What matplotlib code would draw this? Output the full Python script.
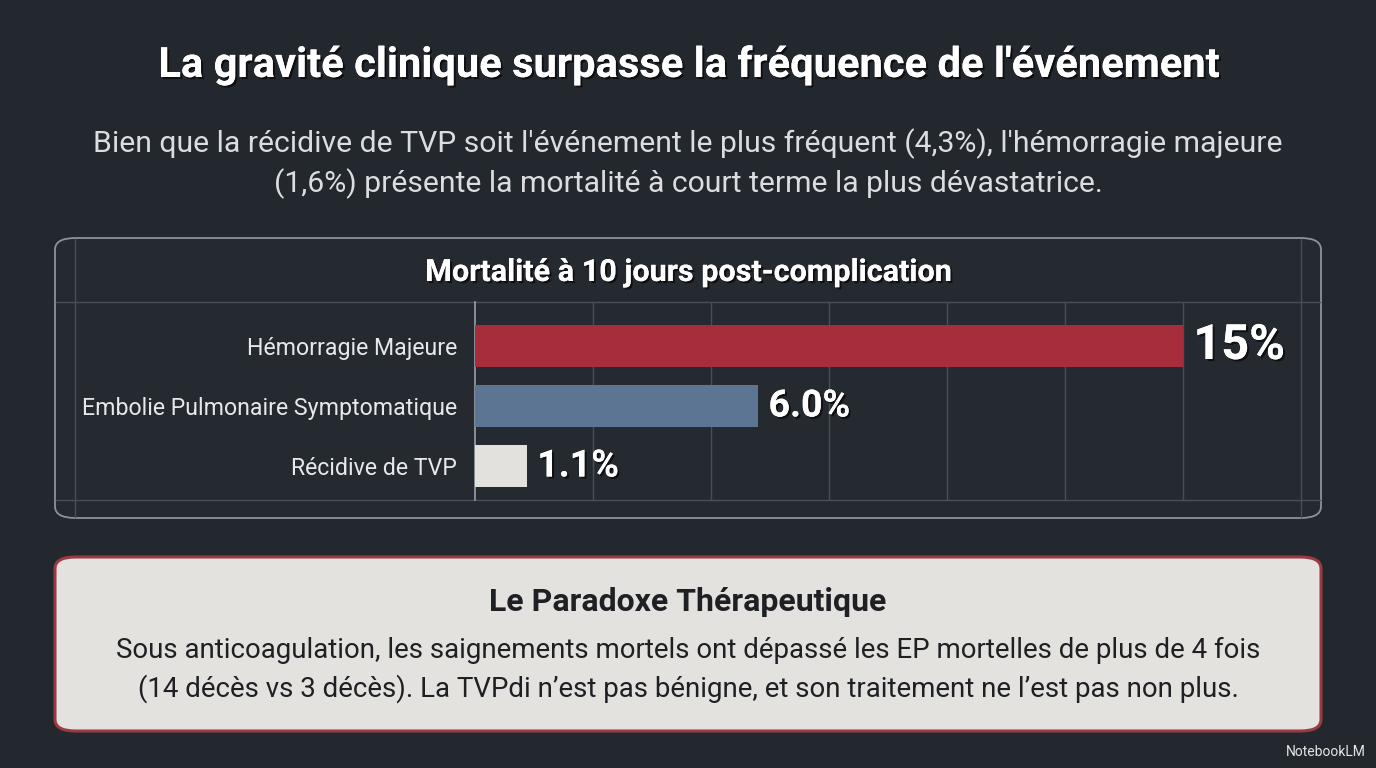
import matplotlib.pyplot as plt
import matplotlib.patheffects as pe
from matplotlib.patches import FancyBboxPatch
from matplotlib.lines import Line2D

plt.rcParams['font.family'] = ['Roboto', 'DejaVu Sans']

# data
categories = ["Hémorragie Majeure", "Embolie Pulmonaire Symptomatique", "Récidive de TVP"]
mortality = [15.0, 6.0, 1.1]
value_labels = ["15%", "6.0%", "1.1%"]
label_sizes = [35, 27, 27]
bar_colors = ["#a82d3a", "#5b7592", "#e2e1de"]

title = "La gravité clinique surpasse la fréquence de l'événement"
subtitle = ("Bien que la récidive de TVP soit l'événement le plus fréquent (4,3%), l'hémorragie majeure\n"
            "(1,6%) présente la mortalité à court terme la plus dévastatrice.")
chart_title = "Mortalité à 10 jours post-complication"
box_title = "Le Paradoxe Thérapeutique"
box_text = ("Sous anticoagulation, les saignements mortels ont dépassé les EP mortelles de plus de 4 fois\n"
            "(14 décès vs 3 décès). La TVPdi n’est pas bénigne, et son traitement ne l’est pas non plus.")

BG = "#23272e"
W, H = 1376, 768


def fx(x):
    return x / W


def fy(y):
    return 1 - y / H


fig = plt.figure(figsize=(13.76, 7.68), dpi=100, facecolor=BG)
shadow = [pe.withSimplePatchShadow(offset=(1.5, -1.5), shadow_rgbFace='black', alpha=0.6), pe.Normal()]

fig.text(fx(688), fy(65), title, ha='center', va='center', color='white',
         fontsize=30, fontweight='bold', path_effects=shadow)
fig.text(fx(688), fy(164), subtitle, ha='center', va='center', color='#dcdde0',
         fontsize=21.7, linespacing=1.4)

# chart frame
frame = FancyBboxPatch((fx(55), fy(518)), fx(1321) - fx(55), fy(238) - fy(518),
                       boxstyle="round,pad=0,rounding_size=0.015", transform=fig.transFigure,
                       facecolor="#252a31", edgecolor="#8d939b", linewidth=1.3, zorder=-2)
fig.patches.append(frame)
grid_c = "#4a4f57"
for y in [302, 500]:
    fig.add_artist(Line2D([fx(56), fx(1320)], [fy(y), fy(y)], color=grid_c, lw=1, zorder=-1))
for x in [75, 1301]:
    fig.add_artist(Line2D([fx(x), fx(x)], [fy(239), fy(517)], color=grid_c, lw=1, zorder=-1))

fig.text(fx(688), fy(272), chart_title, ha='center', va='center', color='white',
         fontsize=22, fontweight='bold', path_effects=shadow)

ax = fig.add_axes([fx(475), fy(500), fx(1301) - fx(475), fy(302) - fy(500)])
ax.set_zorder(3)
ax.set_facecolor('none')
ypos = list(range(len(categories)))
ax.barh(ypos, mortality, height=0.7, color=bar_colors, zorder=3)
ax.set_xlim(0, 17.5)
ax.set_ylim(2.567, -0.733)
ax.set_xticks([2.5 * i for i in range(1, 7)])
ax.set_axisbelow(True)
ax.xaxis.grid(True, color=grid_c, lw=1)
ax.tick_params(length=0, labelbottom=False)
for s in ['top', 'right', 'bottom']:
    ax.spines[s].set_visible(False)
ax.spines['left'].set_color('#9aa0a7')
ax.spines['left'].set_linewidth(1.2)
ax.set_yticks(ypos)
ax.set_yticklabels(categories, color='#e8e8ea', fontsize=16.7)
ax.tick_params(axis='y', pad=13)

for i, (v, lab, sz) in enumerate(zip(mortality, value_labels, label_sizes)):
    ax.text(v + 0.22, i, lab, ha='left', va='center', color='white', fontsize=sz,
            fontweight='bold', path_effects=shadow, zorder=4)

# bottom callout box
box = FancyBboxPatch((fx(55), fy(731)), fx(1321) - fx(55), fy(557) - fy(731),
                     boxstyle="round,pad=0,rounding_size=0.015", transform=fig.transFigure,
                     facecolor="#e3e2de", edgecolor="#9b3a44", linewidth=2.2, zorder=-2)
fig.patches.append(box)
fig.text(fx(688), fy(602), box_title, ha='center', va='center', color='#1e2024',
         fontsize=23, fontweight='bold')
fig.text(fx(688), fy(670), box_text, ha='center', va='center', color='#1e2024',
         fontsize=19.9, linespacing=1.45)

fig.text(fx(1366), fy(752), "NotebookLM", ha='right', va='center', color='#e6e6e6', fontsize=10)

fig.savefig("out.png", dpi=100, facecolor=BG)
